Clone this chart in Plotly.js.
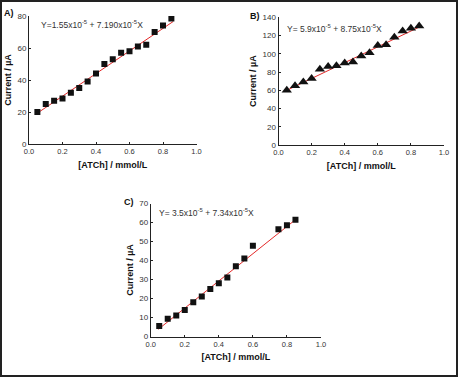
<!DOCTYPE html>
<html>
<head>
<meta charset="utf-8">
<script src="https://cdn.plot.ly/plotly-3.0.1.min.js"></script>
<style>html,body{margin:0;padding:0;background:#fff;}#chart{width:458px;height:377px;}</style>
</head>
<body>
<div id="chart"></div>
<script>
// ---- data ----
const concA = [0.05,0.10,0.15,0.20,0.25,0.30,0.35,0.40,0.45,0.50,0.55,0.60,0.65,0.70,0.75,0.80,0.85];
const currentA = [20,25,27,28.5,32,35,39,44,50,53,57,58,61,62,70,74,78.5];
const fitXA = [0.05,0.86];
const fitYA = [19.3,76.5];

const concB = [0.05,0.10,0.15,0.20,0.25,0.30,0.35,0.40,0.45,0.50,0.55,0.60,0.65,0.70,0.75,0.80,0.85];
const currentB = [60,65,69,73,83,86,87,90,91,97.5,101,109,110,118,125,128,130.5];
const fitXB = [0.045,0.855];
const fitYB = [59.5,129.7];

const concC = [0.05,0.10,0.15,0.20,0.25,0.30,0.35,0.40,0.45,0.50,0.55,0.60,0.75,0.80,0.85];
const currentC = [5.5,9.3,11,14,18,21,25,28,31,37,41,47.7,56.5,58.5,61.5];
const fitXC = [0.045,0.86];
const fitYC = [3.8,62.2];

const xTickVals = [0,0.2,0.4,0.6,0.8,1.0];
const xTickText = ['0.0','0.2','0.4','0.6','0.8','1.0'];
const yTicksA = [0,20,40,60,80];
const yTicksB = [0,20,40,60,80,100,120,140];
const yTicksC = [0,10,20,30,40,50,60,70];

const eqA = 'Y=1.55x10<sup>-5</sup> + 7.190x10<sup>-5</sup>X';
const eqB = 'Y= 5.9x10<sup>-5</sup> + 8.75x10<sup>-5</sup>X';
const eqC = 'Y= 3.5x10<sup>-5</sup> + 7.34x10<sup>-5</sup>X';
const panelLabels = ['A)','B)','C)'];
const xTitle = '[ATCh] / mmol/L';
const yTitle = 'Current / µA';

// ---- layout geometry (pixels) ----
const W = 458, H = 377;
const px = v => v / W;
const py = v => (H - v) / H;
const FONT = 'Liberation Sans, Arial, sans-serif';

function fit(x, y, xa, ya) {
  return {x: x, y: y, xaxis: xa, yaxis: ya, mode: 'lines', type: 'scatter',
    line: {color: 'rgb(228,40,40)', width: 1}, hoverinfo: 'skip', showlegend: false};
}
function pts(x, y, xa, ya, sym, size) {
  return {x: x, y: y, xaxis: xa, yaxis: ya, mode: 'markers', type: 'scatter',
    marker: {symbol: sym, size: size, color: '#111'}, showlegend: false};
}

const data = [
  fit(fitXA, fitYA, 'x', 'y'), pts(concA, currentA, 'x', 'y', 'square', 6),
  fit(fitXB, fitYB, 'x2', 'y2'), pts(concB, currentB, 'x2', 'y2', 'triangle-up', 9),
  fit(fitXC, fitYC, 'x3', 'y3'), pts(concC, currentC, 'x3', 'y3', 'square', 6)
];

function xax(d0, d1, anchor) {
  return {domain: [px(d0), px(d1)], anchor: anchor, range: [0, 1], showgrid: false, zeroline: false,
    showline: true, linecolor: '#222', linewidth: 1, ticks: 'inside', ticklen: 2, tickcolor: '#222',
    tickvals: xTickVals, ticktext: xTickText, tickfont: {family: FONT, size: 7.5, color: '#333'},
    title: {text: xTitle, font: {family: FONT, size: 9, color: '#111', weight: 'bold'}, standoff: 6}};
}
function yax(d0, d1, anchor, maxv, ticks) {
  return {domain: [py(d0), py(d1)], anchor: anchor, range: [0, maxv], showgrid: false, zeroline: false,
    showline: true, linecolor: '#222', linewidth: 1, ticks: 'inside', ticklen: 2, tickcolor: '#222',
    tickvals: ticks, tickfont: {family: FONT, size: 8, color: '#333'},
    title: {text: yTitle, font: {family: FONT, size: 9, color: '#111', weight: 'bold'}, standoff: 4}};
}

const layout = {
  width: W, height: H, margin: {l: 0, r: 0, t: 0, b: 0},
  paper_bgcolor: '#fff', plot_bgcolor: '#fff', showlegend: false,
  xaxis: xax(29, 196.5, 'y'), yaxis: yax(144, 16, 'x', 80, yTicksA),
  xaxis2: xax(278.5, 444, 'y2'), yaxis2: yax(145, 17.3, 'x2', 140, yTicksB),
  xaxis3: xax(150.7, 321, 'y3'), yaxis3: yax(336.5, 203.5, 'x3', 70, yTicksC),
  annotations: [
    {text: eqA, x: px(39), y: py(25), xref: 'paper', yref: 'paper', xanchor: 'left', yanchor: 'middle', showarrow: false, font: {family: FONT, size: 8.5, color: '#333'}},
    {text: eqB, x: px(285), y: py(29), xref: 'paper', yref: 'paper', xanchor: 'left', yanchor: 'middle', showarrow: false, font: {family: FONT, size: 8.5, color: '#333'}},
    {text: eqC, x: px(157), y: py(212), xref: 'paper', yref: 'paper', xanchor: 'left', yanchor: 'middle', showarrow: false, font: {family: FONT, size: 8.5, color: '#333'}},
    {text: panelLabels[0], x: px(2), y: py(13), xref: 'paper', yref: 'paper', xanchor: 'left', yanchor: 'middle', showarrow: false, font: {family: FONT, size: 9, color: '#111', weight: 'bold'}},
    {text: panelLabels[1], x: px(248), y: py(16), xref: 'paper', yref: 'paper', xanchor: 'left', yanchor: 'middle', showarrow: false, font: {family: FONT, size: 9, color: '#111', weight: 'bold'}},
    {text: panelLabels[2], x: px(122), y: py(202), xref: 'paper', yref: 'paper', xanchor: 'left', yanchor: 'middle', showarrow: false, font: {family: FONT, size: 9, color: '#111', weight: 'bold'}}
  ],
  shapes: [
    {type: 'rect', xref: 'paper', yref: 'paper', x0: px(1), x1: px(457), y0: py(376), y1: py(1), line: {color: '#222', width: 2}}
  ]
};

Plotly.newPlot('chart', data, layout, {staticPlot: true, displayModeBar: false});
</script>
</body>
</html>
